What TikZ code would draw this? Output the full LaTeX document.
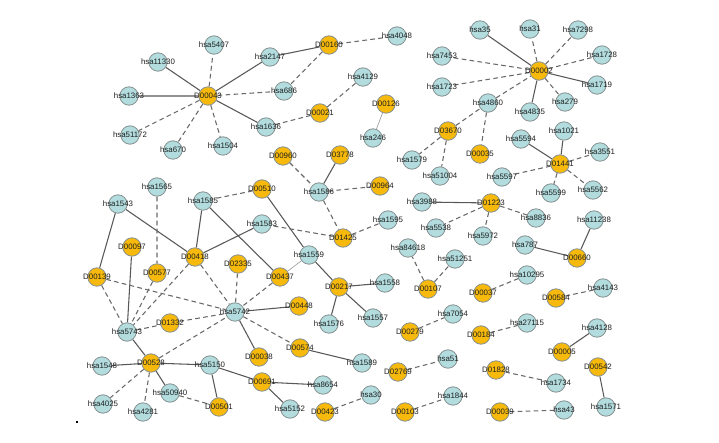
\documentclass[tikz,border=0pt]{standalone}
\usepackage{fontspec}
\setmainfont{Liberation Sans}
\pgfdeclarelayer{edges}
\pgfsetlayers{edges,main}
\definecolor{genefill}{RGB}{178,220,222}
\definecolor{drugfill}{RGB}{247,186,12}
\definecolor{rimgray}{RGB}{135,145,145}
\definecolor{edgegray}{RGB}{88,88,88}
\tikzset{every picture/.style={line width=0.75pt}}
\tikzset{
  gene/.style={circle,draw=rimgray,fill=genefill,line width=0.6pt,minimum size=13.8pt,inner sep=0pt,
    font=\fontsize{5.9}{6}\selectfont,text=black!88,
    execute at begin node={\hbox to 0pt\bgroup\hss},execute at end node={\hss\egroup}},
  drug/.style={gene,fill=drugfill},
  solidedge/.style={draw=edgegray,line width=0.8pt},
  dashedge/.style={draw=edgegray!90,line width=0.8pt,dash pattern=on 3.5pt off 2.5pt},
  faintedge/.style={draw=black!38,line width=0.5pt}
}

\begin{document}
\begin{tikzpicture}[x=0.75pt,y=0.75pt,yscale=-1,xscale=1]
\useasboundingbox (0,0) rectangle (719,443);

% Drug nodes
\node[drug] (D00043) at (208,96) {D00043};
\node[drug] (D00160) at (329,45) {D00160};
\node[drug] (D00021) at (320,113) {D00021};
\node[drug] (D00126) at (386,104) {D00126};
\node[drug] (D00960) at (283,156) {D00960};
\node[drug] (D03778) at (340,155) {D03778};
\node[drug] (D00964) at (380,186) {D00964};
\node[drug] (D01425) at (343,238) {D01425};
\node[drug] (D00510) at (262,189) {D00510};
\node[drug] (D00418) at (195,257) {D00418};
\node[drug] (D00097) at (132,247) {D00097};
\node[drug] (D00577) at (157,273) {D00577};
\node[drug] (D02335) at (238,264) {D02335};
\node[drug] (D00437) at (280,277) {D00437};
\node[drug] (D00139) at (97,277) {D00139};
\node[drug] (D00448) at (299,306) {D00448};
\node[drug] (D01332) at (170,323) {D01332};
\node[drug] (D00217) at (339,287) {D00217};
\node[drug] (D00038) at (259,357) {D00038};
\node[drug] (D00574) at (300,348) {D00574};
\node[drug] (D00528) at (151,363) {D00528};
\node[drug] (D00691) at (262,382) {D00691};
\node[drug] (D00501) at (219,407) {D00501};
\node[drug] (D00423) at (325,412) {D00423};
\node[drug] (D00103) at (405,412) {D00103};
\node[drug] (D02769) at (398,372) {D02769};
\node[drug] (D00279) at (410,332) {D00279};
\node[drug] (D00107) at (428,289) {D00107};
\node[drug] (D01223) at (491,203) {D01223};
\node[drug] (D00660) at (577,258) {D00660};
\node[drug] (D00037) at (483,293) {D00037};
\node[drug] (D00584) at (556,298) {D00584};
\node[drug] (D00184) at (481,335) {D00184};
\node[drug] (D00005) at (562,352) {D00005};
\node[drug] (D01828) at (496,370) {D01828};
\node[drug] (D00542) at (598,367) {D00542};
\node[drug] (D00039) at (500,412) {D00039};
\node[drug] (D00002) at (539,71) {D00002};
\node[drug] (D03670) at (448,131) {D03670};
\node[drug] (D00035) at (480,154) {D00035};
\node[drug] (D01441) at (560,164) {D01441};

% Gene nodes
\node[gene] (hsa5407) at (214,45) {hsa5407};
\node[gene] (hsa11330) at (158,62) {hsa11330};
\node[gene] (hsa1363) at (129,96) {hsa1363};
\node[gene] (hsa51172) at (130,135) {hsa51172};
\node[gene] (hsa670) at (173,150) {hsa670};
\node[gene] (hsa1504) at (223,146) {hsa1504};
\node[gene] (hsa1636) at (266,127) {hsa1636};
\node[gene] (hsa686) at (284,91) {hsa686};
\node[gene] (hsa2147) at (270,57) {hsa2147};
\node[gene] (hsa4048) at (397,36) {hsa4048};
\node[gene] (hsa4129) at (363,77) {hsa4129};
\node[gene] (hsa246) at (373,138) {hsa246};
\node[gene] (hsa1586) at (319,192) {hsa1586};
\node[gene] (hsa1595) at (388,220) {hsa1595};
\node[gene] (hsa1565) at (157,187) {hsa1565};
\node[gene] (hsa1585) at (203,201) {hsa1585};
\node[gene] (hsa1543) at (118,204) {hsa1543};
\node[gene] (hsa1583) at (262,224) {hsa1583};
\node[gene] (hsa1559) at (309,255) {hsa1559};
\node[gene] (hsa5742) at (235,312) {hsa5742};
\node[gene] (hsa5743) at (127,332) {hsa5743};
\node[gene] (hsa1558) at (385,283) {hsa1558};
\node[gene] (hsa1557) at (373,318) {hsa1557};
\node[gene] (hsa1576) at (329,324) {hsa1576};
\node[gene] (hsa1589) at (362,363) {hsa1589};
\node[gene] (hsa1548) at (102,366) {hsa1548};
\node[gene] (hsa5150) at (210,365) {hsa5150};
\node[gene] (hsa8654) at (323,385) {hsa8654};
\node[gene] (hsa5152) at (290,409) {hsa5152};
\node[gene] (hsa50940) at (170,393) {hsa50940};
\node[gene] (hsa4025) at (103,404) {hsa4025};
\node[gene] (hsa4281) at (143,412) {hsa4281};
\node[gene] (hsa30) at (371,395) {hsa30};
\node[gene] (hsa1844) at (453,396) {hsa1844};
\node[gene] (hsa51) at (448,359) {hsa51};
\node[gene] (hsa7054) at (453,314) {hsa7054};
\node[gene] (hsa84618) at (408,248) {hsa84618};
\node[gene] (hsa51251) at (455,259) {hsa51251};
\node[gene] (hsa3988) at (422,202) {hsa3988};
\node[gene] (hsa5538) at (436,228) {hsa5538};
\node[gene] (hsa5972) at (483,236) {hsa5972};
\node[gene] (hsa8836) at (536,218) {hsa8836};
\node[gene] (hsa787) at (525,245) {hsa787};
\node[gene] (hsa11238) at (594,220) {hsa11238};
\node[gene] (hsa10295) at (527,275) {hsa10295};
\node[gene] (hsa4143) at (603,288) {hsa4143};
\node[gene] (hsa27115) at (527,323) {hsa27115};
\node[gene] (hsa4128) at (597,328) {hsa4128};
\node[gene] (hsa1734) at (556,383) {hsa1734};
\node[gene] (hsa1571) at (606,407) {hsa1571};
\node[gene] (hsa43) at (564,410) {hsa43};
\node[gene] (hsa35) at (480,30) {hsa35};
\node[gene] (hsa31) at (530,29) {hsa31};
\node[gene] (hsa7298) at (578,30) {hsa7298};
\node[gene] (hsa1728) at (602,55) {hsa1728};
\node[gene] (hsa1719) at (597,85) {hsa1719};
\node[gene] (hsa279) at (565,102) {hsa279};
\node[gene] (hsa4835) at (530,112) {hsa4835};
\node[gene] (hsa7453) at (442,56) {hsa7453};
\node[gene] (hsa1723) at (442,87) {hsa1723};
\node[gene] (hsa4860) at (488,103) {hsa4860};
\node[gene] (hsa1579) at (412,160) {hsa1579};
\node[gene] (hsa51004) at (440,176) {hsa51004};
\node[gene] (hsa5594) at (521,139) {hsa5594};
\node[gene] (hsa1021) at (564,131) {hsa1021};
\node[gene] (hsa3551) at (600,152) {hsa3551};
\node[gene] (hsa5597) at (502,177) {hsa5597};
\node[gene] (hsa5599) at (551,193) {hsa5599};
\node[gene] (hsa5562) at (593,190) {hsa5562};

\begin{pgfonlayer}{edges}
% Solid edges
\draw[solidedge] (D00043) -- (hsa11330) (D00043) -- (hsa1363) (D00043) -- (hsa1636) (D00043) -- (hsa2147);
\draw[solidedge] (hsa2147) -- (D00160) (D03778) -- (hsa1586) (D00510) -- (hsa1559);
\draw[solidedge] (hsa1585) -- (D00418) (hsa1585) -- (D00437) (hsa1543) -- (D00418) (hsa1543) -- (D00139);
\draw[solidedge] (hsa1583) -- (D00418) (D00097) -- (hsa5743);
\draw[solidedge] (hsa1559) -- (D00217) (D00217) -- (hsa1558) (D00217) -- (hsa1557) (D00217) -- (hsa1576);
\draw[solidedge] (hsa5742) -- (D00448) (hsa5742) -- (D00038) (hsa5743) -- (D00528);
\draw[solidedge] (D00528) -- (hsa1548) (D00528) -- (hsa50940) (D00528) -- (hsa5150);
\draw[solidedge] (hsa5150) -- (D00501) (hsa5150) -- (D00691) (D00691) -- (hsa8654) (D00691) -- (hsa5152);
\draw[solidedge] (D00574) -- (hsa1589) (D00005) -- (hsa4128) (D00542) -- (hsa1571);
\draw[solidedge] (hsa787) -- (D00660) (hsa11238) -- (D00660) (D01223) -- (hsa3988);
\draw[solidedge] (D01441) -- (hsa5594) (D01441) -- (hsa1021);
\draw[solidedge] (D00002) -- (hsa35) (D00002) -- (hsa1719) (D00002) -- (hsa4835);
\draw[faintedge] (D00126) -- (hsa246) (D00437) -- (hsa1559);
% Dashed edges
\draw[dashedge] (D00043) -- (hsa5407) (D00043) -- (hsa51172) (D00043) -- (hsa670) (D00043) -- (hsa1504) (D00043) -- (hsa686);
\draw[dashedge] (D00160) -- (hsa686) (D00160) -- (hsa4048) (D00021) -- (hsa4129) (D00021) -- (hsa1636);
\draw[dashedge] (D00960) -- (hsa1586) (hsa1586) -- (D00964) (hsa1586) -- (D01425);
\draw[dashedge] (D01425) -- (hsa1595) (D01425) -- (hsa1583) (D00510) -- (hsa1585);
\draw[dashedge] (hsa1565) -- (D00577) (D00577) -- (hsa5743) (D00418) -- (hsa5743) (D00418) -- (hsa5742);
\draw[dashedge] (D02335) -- (hsa5742) (D00437) -- (hsa5742) (D00139) -- (hsa5742) (D00139) -- (hsa5743);
\draw[dashedge] (hsa5743) -- (D01332) (D01332) -- (hsa5742) (D00528) -- (hsa5742) (hsa5742) -- (D00574);
\draw[dashedge] (D00528) -- (hsa4025) (D00528) -- (hsa4281) (hsa50940) -- (D00501);
\draw[dashedge] (D00423) -- (hsa30) (D00103) -- (hsa1844) (D02769) -- (hsa51) (D00279) -- (hsa7054);
\draw[dashedge] (D00107) -- (hsa84618) (D00107) -- (hsa51251);
\draw[dashedge] (D00037) -- (hsa10295) (D00584) -- (hsa4143) (D00184) -- (hsa27115) (D01828) -- (hsa1734) (D00039) -- (hsa43);
\draw[dashedge] (D01223) -- (hsa5538) (D01223) -- (hsa5972) (D01223) -- (hsa8836);
\draw[dashedge] (D01441) -- (hsa3551) (D01441) -- (hsa5597) (D01441) -- (hsa5599) (D01441) -- (hsa5562);
\draw[dashedge] (D03670) -- (hsa4860) (D03670) -- (hsa1579) (D03670) -- (hsa51004);
\draw[dashedge] (hsa4860) -- (D00035) (hsa4860) -- (D00002);
\draw[dashedge] (D00002) -- (hsa31) (D00002) -- (hsa7298) (D00002) -- (hsa1728) (D00002) -- (hsa279) (D00002) -- (hsa7453) (D00002) -- (hsa1723);
\end{pgfonlayer}

% stray mark
\fill (76,421) rectangle (77.5,422.5);

\end{tikzpicture}
\end{document}
